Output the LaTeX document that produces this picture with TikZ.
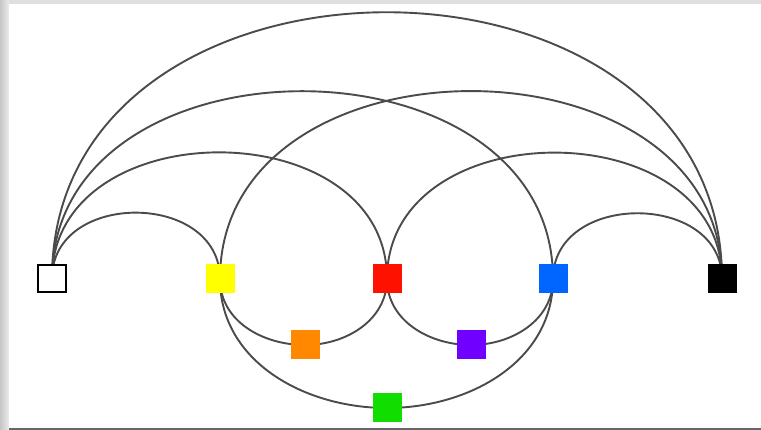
\documentclass[tikz,border=0pt]{standalone}
\usetikzlibrary{backgrounds}
\definecolor{cyel}{RGB}{255,255,0}
\definecolor{cred}{RGB}{255,17,0}
\definecolor{cblu}{RGB}{0,102,255}
\definecolor{corg}{RGB}{255,136,0}
\definecolor{cpur}{RGB}{112,0,255}
\definecolor{cgrn}{RGB}{17,221,0}
\definecolor{cedge}{RGB}{75,75,75}
\pgfdeclarelayer{bglayer}
\pgfdeclarelayer{edgelayer}
\pgfsetlayers{bglayer,edgelayer,main}
\begin{document}
\begin{tikzpicture}[x=1pt,y=-1pt,
  sq/.style={rectangle,minimum size=29pt,inner sep=0pt,outer sep=0pt},
  link/.style={draw=cedge,line width=1.9pt}]
\useasboundingbox (0,0) rectangle (761,430);
\begin{pgfonlayer}{bglayer}
  \fill[gray!25] (0,0) rectangle (761,430);
  \shade[left color=gray!45,right color=gray!15] (0,0) rectangle (9,430);
  \fill[white] (9,4) rectangle (761,428);
  \fill[black!60] (9,428) rectangle (761,430);
\end{pgfonlayer}
\node[sq,draw=black,line width=1.8pt,fill=white,minimum size=27.5pt] (w) at (52,278.5) {};
\node[sq,fill=cyel] (y) at (220,279) {};
\node[sq,fill=cred] (r) at (387,279) {};
\node[sq,fill=cblu] (b) at (553,279) {};
\node[sq,fill=black] (k) at (722,279) {};
\node[sq,fill=corg] (o) at (305,345) {};
\node[sq,fill=cpur] (p) at (471,345) {};
\node[sq,fill=cgrn] (g) at (387,408) {};
\begin{pgfonlayer}{edgelayer}
  \path[link] (w.center) to[out=90,in=90,looseness=1.34] (y.center);
  \path[link] (w.center) to[out=90,in=90,looseness=1.29] (r.center);
  \path[link] (w.center) to[out=90,in=90,looseness=1.28] (b.center);
  \path[link] (w.center) to[out=90,in=90,looseness=1.36] (k.center);
  \path[link] (y.center) to[out=90,in=90,looseness=1.28] (k.center);
  \path[link] (r.center) to[out=90,in=90,looseness=1.29] (k.center);
  \path[link] (b.center) to[out=90,in=90,looseness=1.33] (k.center);
  \path[link] (y.center) to[out=-90,in=180] (o.center);
  \path[link] (o.center) to[out=0,in=-90] (r.center);
  \path[link] (r.center) to[out=-90,in=180] (p.center);
  \path[link] (p.center) to[out=0,in=-90] (b.center);
  \path[link] (y.center) to[out=-90,in=180] (g.center);
  \path[link] (g.center) to[out=0,in=-90] (b.center);
\end{pgfonlayer}
\end{tikzpicture}
\end{document}
